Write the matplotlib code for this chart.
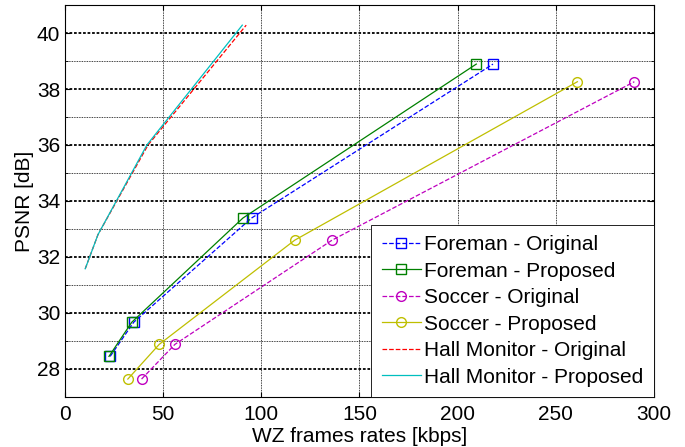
import matplotlib
matplotlib.use("Agg")
import matplotlib.pyplot as plt
import numpy as np

plt.rcParams['font.family'] = ['Liberation Sans', 'DejaVu Sans']

foreman_orig_x = [23, 35, 95, 218]
foreman_orig_y = [28.45, 29.67, 33.39, 38.89]
foreman_prop_x = [22.4, 34, 90.6, 209.5]
foreman_prop_y = [28.45, 29.67, 33.39, 38.89]
soccer_orig_x = [39, 56, 136, 290]
soccer_orig_y = [27.64, 28.88, 32.6, 38.26]
soccer_prop_x = [32, 48, 117, 261]
soccer_prop_y = [27.64, 28.88, 32.6, 38.26]
hall_orig_x = [10.3, 16.8, 42.3, 92.3]
hall_orig_y = [31.58, 32.8, 36.0, 40.28]
hall_prop_x = [10.3, 16.8, 41.7, 90.3]
hall_prop_y = [31.58, 32.8, 36.0, 40.28]

fig = plt.figure(figsize=(6.85, 4.47), dpi=100)
ax = fig.add_axes([0.0949, 0.1119, 0.8598, 0.8769])

ms = 7
ax.plot(foreman_orig_x, foreman_orig_y, '--', color='blue', marker='s', mfc='none', ms=ms, lw=0.9, label='Foreman - Original')
ax.plot(foreman_prop_x, foreman_prop_y, '-', color=(0, 0.5, 0), marker='s', mfc='none', ms=ms, lw=0.9, label='Foreman - Proposed')
ax.plot(soccer_orig_x, soccer_orig_y, '--', color='m', marker='o', mfc='none', ms=ms, lw=0.9, label='Soccer - Original')
ax.plot(soccer_prop_x, soccer_prop_y, '-', color='y', marker='o', mfc='none', ms=ms, lw=0.9, label='Soccer - Proposed')
ax.plot(hall_orig_x, hall_orig_y, '--', color='red', lw=0.9, label='Hall Monitor - Original')
ax.plot(hall_prop_x, hall_prop_y, '-', color='c', lw=0.9, label='Hall Monitor - Proposed')

ax.set_xlim(0, 300)
ax.set_ylim(27, 41)
ax.set_xticks(np.arange(0, 301, 50))
ax.set_yticks(np.arange(28, 41, 2))
ax.set_yticks(np.arange(27, 42, 1), minor=True)

ax.grid(True, which='major', axis='y', color='black', linestyle=(0, (1.5, 1)), linewidth=1.3)
ax.grid(True, which='minor', axis='y', color='black', linestyle=(0, (1, 1)), linewidth=0.6)
ax.grid(True, which='major', axis='x', color='black', linestyle=(0, (1, 1)), linewidth=0.6)
ax.set_axisbelow(True)

fs = 15
ax.tick_params(which='both', direction='in', top=True, right=True, labelsize=fs)
ax.tick_params(which='minor', length=2)
ax.tick_params(axis='x', pad=6)
ax.set_xlabel('WZ frames rates [kbps]', fontsize=fs, labelpad=2)
ax.set_ylabel('PSNR [dB]', fontsize=fs, labelpad=2)

leg = ax.legend(loc='lower right', fontsize=fs, frameon=True, fancybox=False,
                edgecolor='black', framealpha=1, borderaxespad=0.0,
                handlelength=1.9, handletextpad=0.15, labelspacing=0.36, borderpad=0.5)
leg.get_frame().set_linewidth(0.6)

fig.savefig('out.png', dpi=100)
